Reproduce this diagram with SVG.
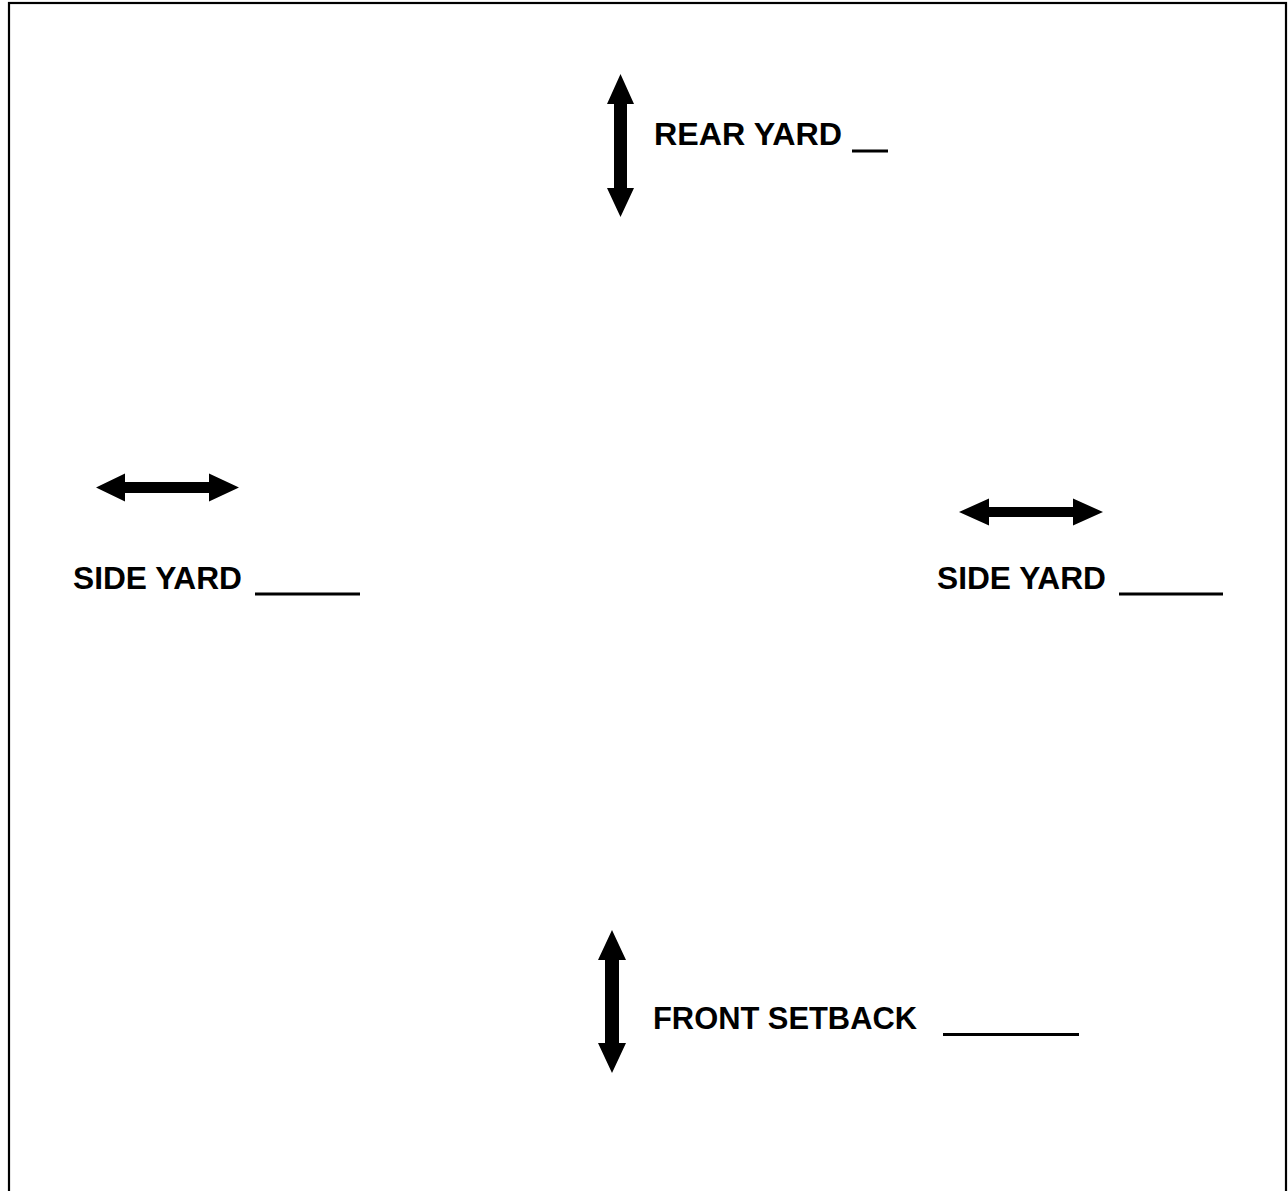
<svg xmlns="http://www.w3.org/2000/svg" width="1288" height="1191" viewBox="0 0 1288 1191">
<style>
.lbl{font-family:"Liberation Sans",Arial,sans-serif;font-weight:bold;font-size:31.5px;fill:#000}
.blank{stroke:#000;stroke-width:3;fill:none}
.arr{fill:#000;stroke:none}
</style>
<rect width="1288" height="1191" fill="#fff"/>
<rect x="9" y="3" width="1277" height="1210" fill="none" stroke="#000" stroke-width="2.2"/>
<g id="connectors">
<polygon class="arr" points="620.5,74 634,104 627,104 627,188 634,188 620.5,217 607,188 614,188 614,104 607,104"/>
<polygon class="arr" points="612,930 626,960 619,960 619,1043 626,1043 612,1073 598,1043 605,1043 605,960 598,960"/>
<polygon class="arr" points="96,487.5 125,473.5 125,482 209,482 209,473.5 239,487.5 209,501.5 209,493 125,493 125,501.5"/>
<polygon class="arr" points="959,512 989,498.5 989,507 1073,507 1073,498.5 1103,512 1073,525.5 1073,517 989,517 989,525.5"/>
</g>
<g id="rear-yard">
<text class="lbl" x="654" y="145" textLength="188" lengthAdjust="spacingAndGlyphs">REAR YARD</text>
<line class="blank" x1="852" y1="151" x2="888" y2="151"/>
</g>
<g id="side-yard-left">
<text class="lbl" x="73" y="589" textLength="169" lengthAdjust="spacingAndGlyphs">SIDE YARD</text>
<line class="blank" x1="255" y1="594" x2="360" y2="594"/>
</g>
<g id="side-yard-right">
<text class="lbl" x="937" y="589" textLength="169" lengthAdjust="spacingAndGlyphs">SIDE YARD</text>
<line class="blank" x1="1119" y1="594" x2="1223" y2="594"/>
</g>
<g id="front-setback">
<text class="lbl" x="653" y="1029" textLength="264" lengthAdjust="spacingAndGlyphs">FRONT SETBACK</text>
<line class="blank" x1="943" y1="1034.5" x2="1079" y2="1034.5"/>
</g>
</svg>
